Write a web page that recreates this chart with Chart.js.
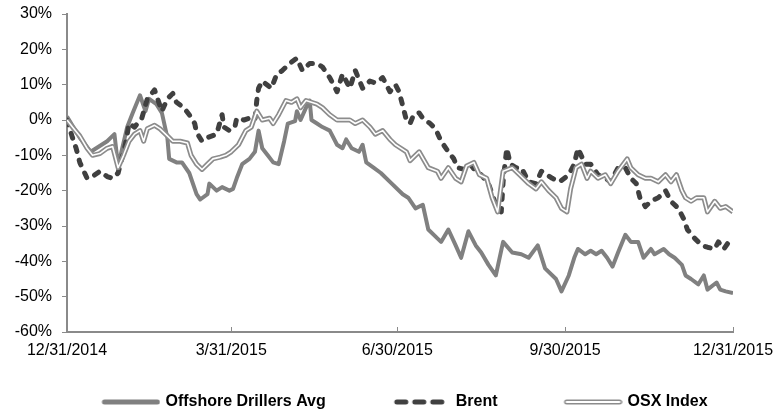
<!DOCTYPE html>
<html>
<head>
<meta charset="utf-8">
<script src="https://cdn.jsdelivr.net/npm/chart.js@4.4.1/dist/chart.umd.min.js"></script>
<style>
  html, body { margin: 0; padding: 0; background: #fff; overflow: hidden; }
  #wrap { width: 777px; height: 411px; }
</style>
</head>
<body>
<div id="wrap"><canvas id="myChart1" width="777" height="411"></canvas></div>
<script>
// days since 12/31/2014, % change
const tickDays = [0, 90, 181, 273, 365]
const tickLabels = ['12/31/2014', '3/31/2015', '6/30/2015', '9/30/2015', '12/31/2015']

const offshoreDays = [0, 7, 13, 16, 22, 26, 28, 33, 36, 40, 43, 45, 49, 52, 55, 56, 60, 63, 67, 71, 73, 77, 78, 82, 85, 89, 91, 93, 96, 100, 103, 105, 107, 110, 113, 116, 119, 121, 125, 126, 128, 131, 133, 134, 137, 140, 144, 148, 151, 153, 156, 160, 162, 164, 168, 172, 177, 184, 187, 191, 195, 198, 203, 205, 209, 213, 216, 220, 224, 227, 231, 235, 239, 244, 249, 253, 258, 262, 268, 271, 275, 278, 280, 284, 287, 290, 293, 296, 299, 302, 306, 309, 313, 316, 320, 322, 327, 330, 333, 337, 339, 342, 346, 349, 351, 356, 358, 361, 365]
const offshoreVals = [1, -5, -9, -8, -6, -4, -13, -2, 2, 7, 2.5, 6, 4.5, 2, -5, -11, -12, -12, -15, -21, -22.5, -21, -18, -20, -19, -20, -19.5, -16.5, -12.5, -11, -9, -3, -8, -10, -12, -12.5, -6, -1, -0.3, 2.5, 0, 3.5, 5.5, 0, -1, -2, -3, -7, -8, -5.5, -8, -9, -7, -12, -13.5, -15, -17.5, -21, -22, -25, -24, -31, -33.5, -34.5, -31, -35.5, -39, -31.5, -35.5, -37.5, -41, -44, -34.5, -37.5, -38, -39, -35.5, -42, -45, -48.5, -44, -39, -36.5, -38, -37, -38, -37, -39, -41.5, -37.5, -32.5, -34.5, -34.5, -39, -36.5, -38, -36.5, -38, -39, -41, -44, -45, -46.5, -44, -48, -46, -48, -48.5, -49]

const brentDays = [0, 3, 5, 7, 11, 14, 18, 22, 25, 28, 32, 34, 37, 41, 44, 48, 50, 52, 55, 58, 60, 64, 67, 70, 71, 74, 77, 82, 85, 86, 89, 92, 93, 97, 100, 103, 104, 105, 107, 112, 115, 118, 122, 126, 129, 133, 137, 140, 144, 148, 151, 155, 158, 162, 166, 169, 173, 177, 180, 182, 184, 186, 188, 190, 193, 195, 199, 202, 205, 209, 212, 214, 218, 221, 224, 227, 231, 235, 238, 239, 241, 243, 246, 249, 253, 257, 260, 263, 266, 270, 275, 278, 280, 284, 287, 291, 295, 298, 302, 306, 309, 312, 314, 317, 320, 324, 328, 331, 335, 338, 340, 344, 348, 351, 355, 357, 360, 362, 365]
const brentVals = [0, -5, -8, -12, -16.5, -16, -14.5, -16, -16.5, -15, -7, -1, -2, 0.5, 6, 8.5, 5.5, 2.5, 6, 7.5, 5, 3.5, 1.5, -1, -3.5, -6, -5, -4, 1.5, -2, -3, -2, 0.5, 0, 0.5, 0, 5.5, 9, 11, 9, 13, 14, 16, 17.5, 14, 16, 16, 15, 12, 8, 13, 9, 14, 9, 11, 10.5, 12, 8, 10, 8, 4, 0, -1, 1.5, 2, 0.5, -1, -2.5, -6, -9, -11, -13.5, -14, -12.5, -14.5, -15.5, -18, -24, -26, -17.5, -8, -12.5, -13.5, -13.5, -17.5, -18, -14.5, -15.5, -16.5, -17.5, -15.5, -12.5, -8, -12.5, -12.5, -15.5, -16.5, -17.5, -13.5, -13.5, -16.5, -18, -22, -24.5, -23, -22, -20, -23, -25, -28, -31, -33.5, -35.5, -36, -36.5, -34.5, -36.5, -35, -36]

const osxDays = [0, 3, 7, 11, 14, 18, 22, 25, 28, 31, 34, 37, 40, 42, 44, 48, 51, 55, 58, 62, 66, 68, 71, 74, 77, 80, 84, 87, 90, 94, 98, 101, 104, 107, 111, 113, 116, 120, 123, 126, 128, 131, 137, 140, 144, 148, 151, 155, 158, 162, 166, 169, 173, 177, 180, 186, 188, 193, 198, 203, 205, 209, 213, 216, 219, 223, 226, 230, 233, 236, 239, 244, 248, 253, 257, 260, 264, 268, 271, 274, 276, 279, 282, 285, 287, 291, 295, 298, 302, 307, 309, 313, 317, 320, 324, 328, 331, 334, 337, 339, 342, 345, 349, 351, 355, 358, 361, 365]
const osxVals = [0, -2, -4.5, -8, -10, -9.5, -8, -7.5, -13.5, -10, -6, -4, -3, -6, -2.5, -1.5, -2.5, -4.5, -6, -6, -6.5, -10, -12.5, -14, -12.5, -11, -10.5, -10, -9, -7, -3, -2, 2.5, 0, 0.5, -1, 1.5, 5.5, 5, 6, 3.5, 5.5, 4.5, 3.5, 1.5, 0, 0, 0, -1, 0, -2, -4, -3, -5.5, -7, -9, -11.5, -9, -13.5, -14.5, -16.5, -13.5, -16.5, -17.5, -13, -12, -15.5, -16.5, -22, -26, -14.5, -13.5, -15.5, -18, -19.5, -17.5, -20, -22, -25, -26, -19.5, -13.5, -12.5, -16.5, -14.5, -16.5, -15.5, -18, -14.5, -11, -13.5, -15.5, -16.5, -16.5, -17.5, -15.5, -17.5, -15.5, -20, -22, -23, -22, -22, -26, -23, -25, -24.5, -26]

const seriesNames = ['Offshore Drillers Avg', 'Brent', 'OSX Index']

function toPoints(days, vals) {
  return days.map((d, i) => ({ x: d, y: vals[i] }))
}

// little line samples for the legend
const iconBox = 88
function makeIcon(kind) {
  const c = document.createElement('canvas')
  c.width = iconBox + 6
  c.height = 8
  const g = c.getContext('2d')
  const x0 = c.width - 56, x1 = c.width - 3, y = 4
  g.lineCap = 'round'
  if (kind === 'solid') {
    g.strokeStyle = '#808080'; g.lineWidth = 5
    g.beginPath(); g.moveTo(x0, y); g.lineTo(x1, y); g.stroke()
  } else if (kind === 'dash') {
    g.strokeStyle = '#404040'; g.lineWidth = 5
    g.setLineDash([9, 9])
    g.beginPath(); g.moveTo(x0 + 2, y); g.lineTo(x1, y); g.stroke()
  } else {
    g.strokeStyle = '#8c8c8c'; g.lineWidth = 5
    g.beginPath(); g.moveTo(x0, y); g.lineTo(x1, y); g.stroke()
    g.strokeStyle = '#fff'; g.lineWidth = 2
    g.beginPath(); g.moveTo(x0, y); g.lineTo(x1, y); g.stroke()
  }
  return c
}
const icons = [makeIcon('solid'), makeIcon('dash'), makeIcon('double')]

const chartEl = document.getElementById('myChart1')
const config = {
  type: 'line',
  data: {
    datasets: [{
      label: seriesNames[0],
      data: toPoints(offshoreDays, offshoreVals),
      borderColor: '#808080',
      borderWidth: 4,
      order: 3
    }, {
      label: seriesNames[1],
      data: toPoints(brentDays, brentVals),
      borderColor: '#404040',
      borderWidth: 5,
      borderDash: [5, 9],
      borderCapStyle: 'round',
      order: 2
    }, {
      label: seriesNames[2],
      data: toPoints(osxDays, osxVals),
      borderColor: '#8c8c8c',
      borderWidth: 5,
      order: 1
    }, {
      label: 'osx-inner',
      data: toPoints(osxDays, osxVals),
      borderColor: '#ffffff',
      borderWidth: 1.6,
      order: 0
    }]
  },
  options: {
    responsive: false,
    animation: false,
    devicePixelRatio: 1,
    elements: {
      point: { radius: 0, hoverRadius: 0 },
      line: { tension: 0, borderJoinStyle: 'round', fill: false }
    },
    layout: { padding: { top: 0, right: 0, left: 0, bottom: -9 } },
    scales: {
      x: {
        type: 'linear',
        min: 0,
        max: 365,
        afterBuildTicks: (scale) => { scale.ticks = tickDays.map(v => ({ value: v })) },
        afterFit: (scale) => { scale.height = 28; scale.paddingRight = 44 },
        ticks: {
          autoSkip: false,
          maxRotation: 0,
          padding: 14,
          color: '#000',
          font: { family: '"Liberation Sans", Arial, sans-serif', size: 16 },
          callback: (v) => tickLabels[tickDays.indexOf(v)]
        },
        grid: { drawOnChartArea: false, tickLength: -5, color: '#8a8a8a', lineWidth: 1 },
        border: { color: '#8a8a8a', width: 2 }
      },
      y: {
        min: -60,
        max: 30,
        afterFit: (scale) => { scale.width = 67; scale.paddingTop = 14 },
        ticks: {
          stepSize: 10,
          padding: 10,
          color: '#000',
          font: { family: '"Liberation Sans", Arial, sans-serif', size: 16 },
          callback: (v) => v + '%'
        },
        grid: { drawOnChartArea: false, tickLength: 5, color: '#8a8a8a', lineWidth: 1 },
        border: { color: '#8a8a8a', width: 2 }
      }
    },
    plugins: {
      tooltip: { enabled: false },
      legend: {
        display: true,
        position: 'bottom',
        align: 'center',
        labels: {
          usePointStyle: true,
          pointStyleWidth: iconBox,
          boxHeight: 8,
          padding: 34,
          color: '#000',
          font: { family: '"Liberation Sans", Arial, sans-serif', size: 16, weight: 'bold' },
          generateLabels: () => seriesNames.map((name, i) => ({
            text: name,
            pointStyle: icons[i],
            fillStyle: 'transparent',
            strokeStyle: 'transparent',
            lineWidth: 0,
            hidden: false,
            datasetIndex: i,
            fontColor: '#000'
          }))
        }
      }
    }
  }
}
const myChart = new Chart(chartEl, config)
</script>
</body>
</html>
